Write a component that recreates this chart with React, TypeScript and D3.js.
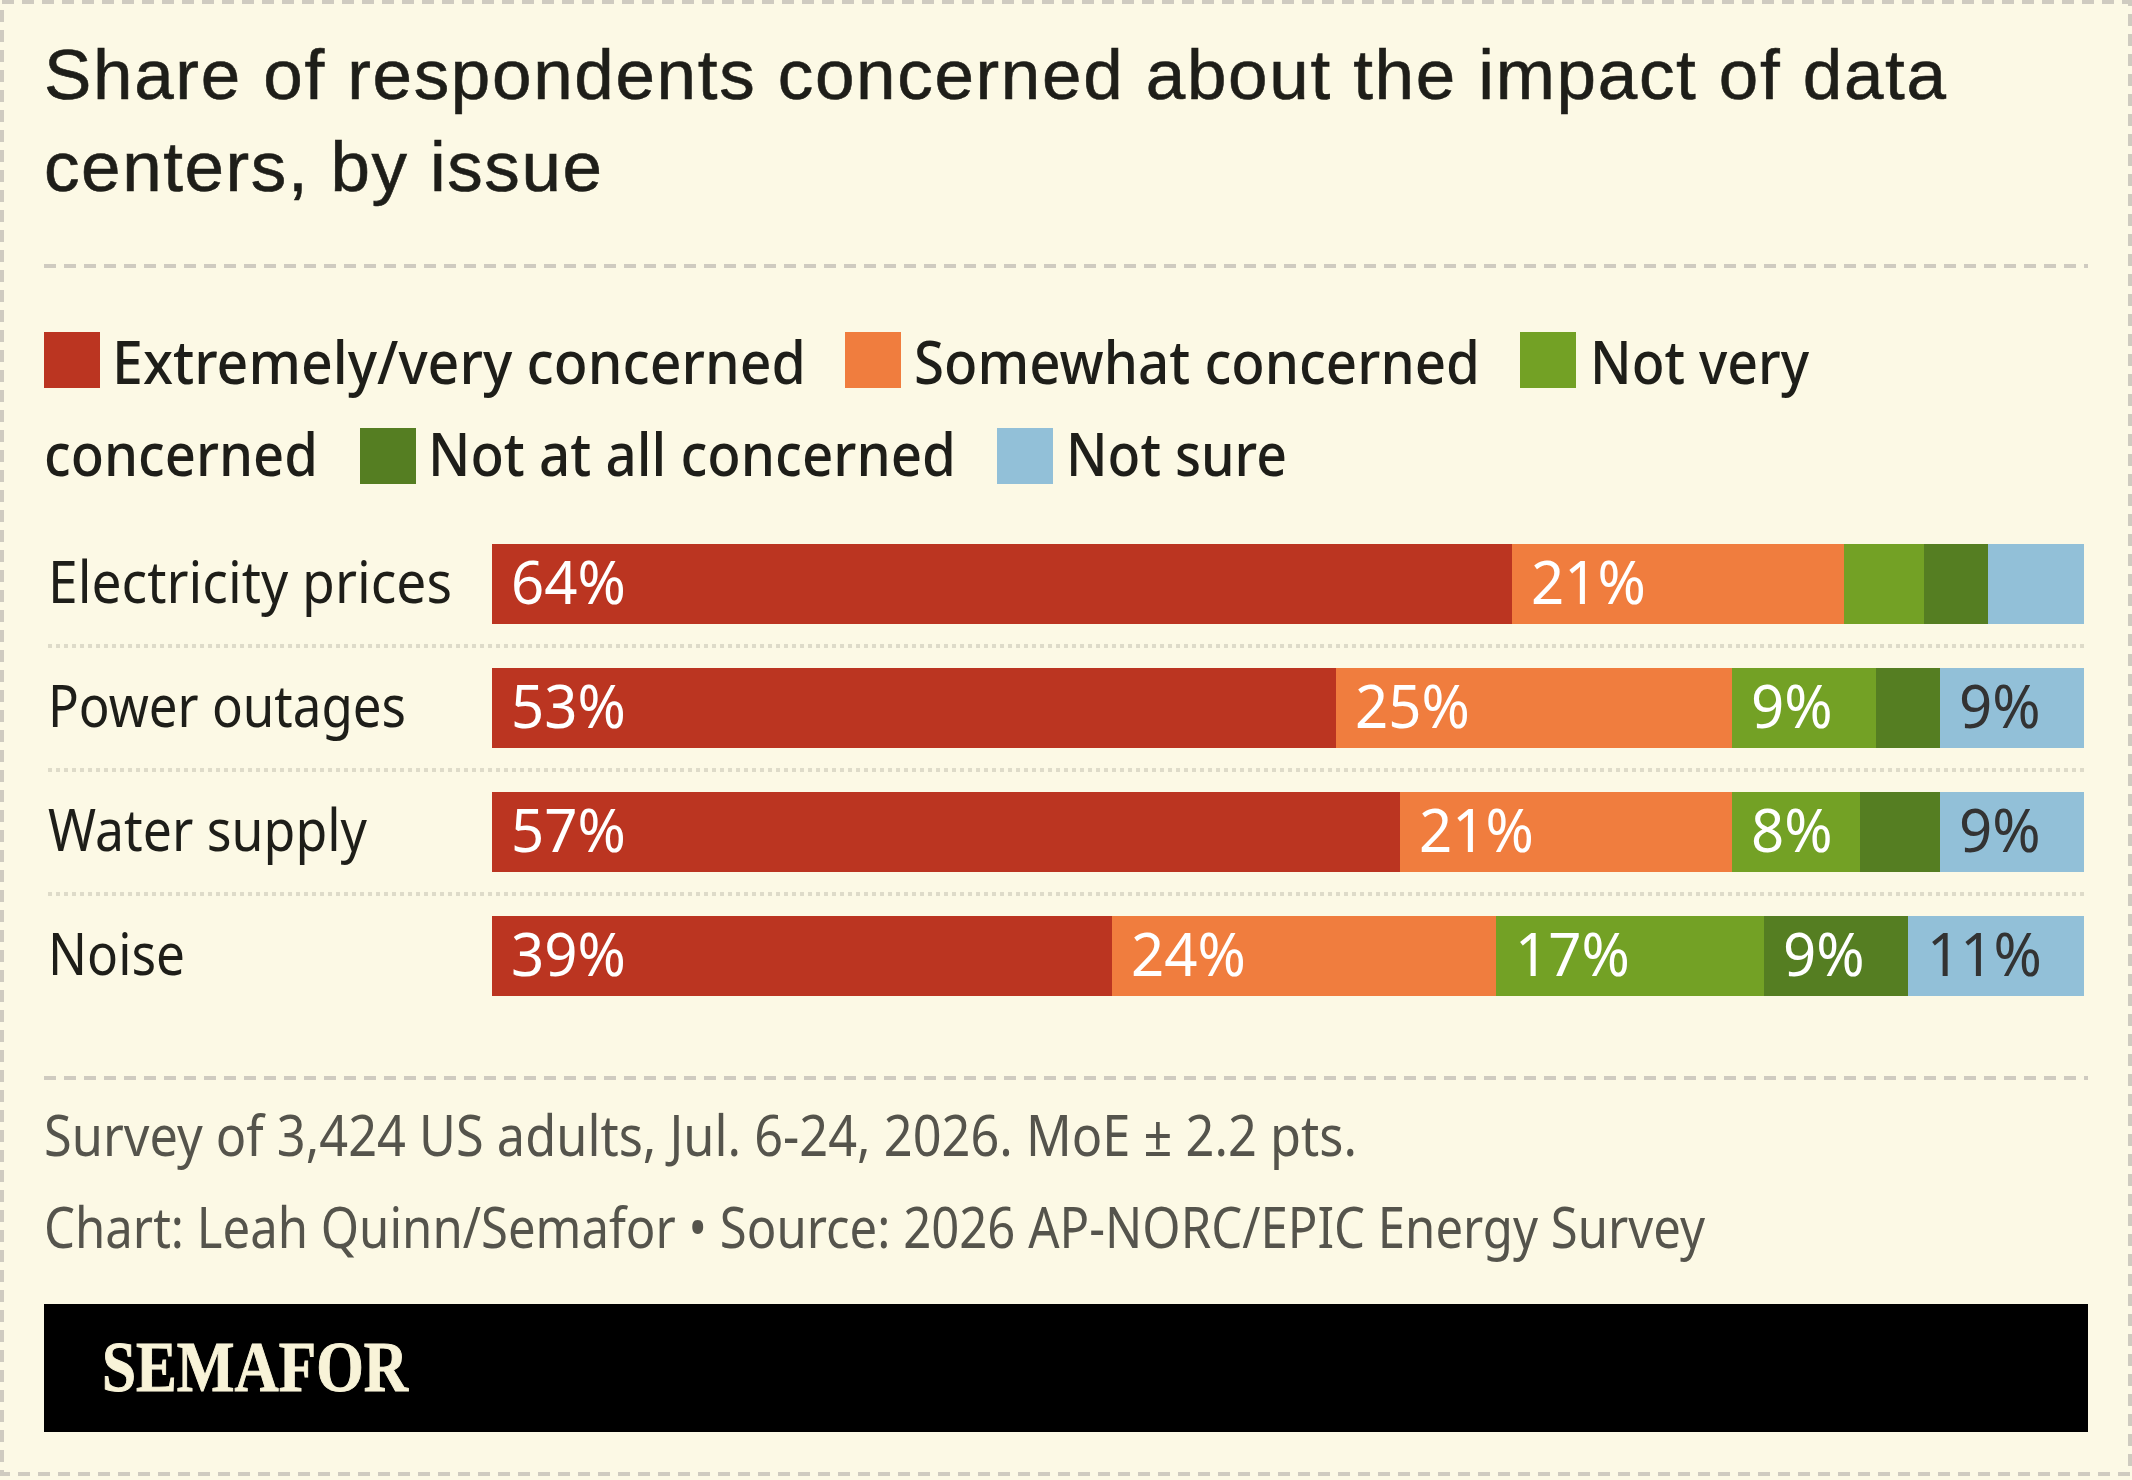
import React from "react";
import * as d3 from "d3";

const categories = ["Electricity prices", "Power outages", "Water supply", "Noise"];
const seriesNames = [
  "Extremely/very concerned",
  "Somewhat concerned",
  "Not very concerned",
  "Not at all concerned",
  "Not sure",
];
const extremelyVery = [64, 53, 57, 39];
const somewhat = [21, 25, 21, 24];
const notVery = [5, 9, 8, 17];
const notAtAll = [4, 4, 5, 9];
const notSure = [6, 9, 9, 11];
const seriesValues = [extremelyVery, somewhat, notVery, notAtAll, notSure];
const seriesColors = ["#bb3521", "#f07d3e", "#73a125", "#557e22", "#92c0d8"];
const labelColors = ["#ffffff", "#ffffff", "#ffffff", "#ffffff", "#333333"];

const titleLines = ["Share of respondents concerned about the impact of data", "centers, by issue"];
const footerLines = [
  "Survey of 3,424 US adults, Jul. 6-24, 2026. MoE ± 2.2 pts.",
  "Chart: Leah Quinn/Semafor • Source: 2026 AP-NORC/EPIC Energy Survey",
];

// the original is drawn at 4x, so its bar edges land on whole css pixels
const PX = 4;
const bodyFont = "'Noto Sans', sans-serif";
const INK = "#1e1e19";
const RULE = "#cfcbc0";

const rowLabelWidths = [404, 358, 319, 137];
const legendRows = [
  { swatch: 44, swatchY: 332, text: 112, width: 694, y: 384, series: 0, label: seriesNames[0] },
  { swatch: 845, swatchY: 332, text: 914, width: 566, y: 384, series: 1, label: seriesNames[1] },
  { swatch: 1520, swatchY: 332, text: 1590, width: 219, y: 384, series: 2, label: "Not very" },
  { swatch: null, swatchY: 0, text: 44, width: 274, y: 476, series: 2, label: "concerned" },
  { swatch: 360, swatchY: 428, text: 428, width: 528, y: 476, series: 3, label: seriesNames[3] },
  { swatch: 997, swatchY: 428, text: 1066, width: 221, y: 476, series: 4, label: seriesNames[4] },
];

const x = d3.scaleLinear().domain([0, 100]).rangeRound([123, 521]);
const y = d3.scaleBand().domain(categories).range([544, 996]).paddingInner(44 / 124);

const rows = categories.map((c, i) => {
  const row: Record<string, number | string> = { category: c };
  seriesNames.forEach((s, j) => (row[s] = seriesValues[j][i]));
  return row;
});
const layers = d3.stack().keys(seriesNames)(rows as any);

function App() {
  return (
    <svg
      width={2132}
      height={1480}
      style={{ position: "absolute", left: 0, top: 0, display: "block" }}
    >
      <rect width={2132} height={1480} fill="#fcf9e5" />
      <rect x={2} y={2} width={2128} height={1472} fill="none" stroke={RULE} strokeWidth={4} strokeDasharray="12 8" />

      {titleLines.map((t, i) => (
        <text
          key={t}
          x={44}
          y={99 + i * 92}
          fontFamily="'Liberation Sans', sans-serif"
          fontSize={71}
          fill={INK}
          stroke={INK}
          strokeWidth={0.6}
          textLength={i === 0 ? 1902 : 558}
          lengthAdjust="spacing"
        >
          {t}
        </text>
      ))}
      <line x1={44} x2={2088} y1={266} y2={266} stroke={RULE} strokeWidth={4} strokeDasharray="12 8" />

      {legendRows.map((d) => (
        <g key={d.label}>
          {d.swatch !== null && (
            <rect x={d.swatch} y={d.swatchY} width={56} height={56} fill={seriesColors[d.series]} />
          )}
          <text
            x={d.text}
            y={d.y}
            fontFamily={bodyFont}
            fontSize={60}
            fontWeight={500}
            fill={INK}
            textLength={d.width}
            lengthAdjust="spacingAndGlyphs"
          >
            {d.label}
          </text>
        </g>
      ))}

      {categories.map((c, i) => (
        <g key={c}>
          <text
            x={48}
            y={(y(c) as number) + 59}
            fontFamily={bodyFont}
            fontSize={59}
            fill={INK}
            textLength={rowLabelWidths[i]}
            lengthAdjust="spacingAndGlyphs"
          >
            {c}
          </text>
          {i < categories.length - 1 && (
            <line
              x1={48}
              x2={2084}
              y1={(y(c) as number) + y.bandwidth() + 22}
              y2={(y(c) as number) + y.bandwidth() + 22}
              stroke="#dedbc9"
              strokeWidth={4}
              strokeDasharray="4 4"
            />
          )}
        </g>
      ))}

      {layers.map((layer, j) => (
        <g key={layer.key} fill={seriesColors[j]}>
          {layer.map((d, i) => {
            const x0 = x(d[0]) * PX;
            const x1 = x(d[1]) * PX;
            const top = y(categories[i]) as number;
            return (
              <g key={categories[i]}>
                <rect x={x0} y={top} width={x1 - x0} height={y.bandwidth()} />
                {d[1] - d[0] >= 8 && (
                  <text
                    transform={`translate(${x0 + 19},${top + 60}) scale(0.97,1)`}
                    fontFamily={bodyFont}
                    fontSize={60}
                    fontWeight={400}
                    fill={labelColors[j]}
                  >
                    {d[1] - d[0]}%
                  </text>
                )}
              </g>
            );
          })}
        </g>
      ))}

      <line x1={44} x2={2088} y1={1078} y2={1078} stroke={RULE} strokeWidth={4} strokeDasharray="12 8" />
      {footerLines.map((t, i) => (
        <text
          key={t}
          x={44}
          y={1156 + i * 92}
          fontFamily={bodyFont}
          fontSize={56}
          fill="#55544c"
          textLength={i === 0 ? 1313 : 1661}
          lengthAdjust="spacingAndGlyphs"
        >
          {t}
        </text>
      ))}

      <rect x={44} y={1304} width={2044} height={128} fill="#000000" />
      <text
        x={102}
        y={1391}
        fontFamily="'Liberation Serif', serif"
        fontWeight={700}
        fontSize={72}
        fill="#f8f3d8"
        stroke="#f8f3d8"
        strokeWidth={1}
        textLength={306}
        lengthAdjust="spacingAndGlyphs"
      >
        SEMAFOR
      </text>
    </svg>
  );
}

export default App;
